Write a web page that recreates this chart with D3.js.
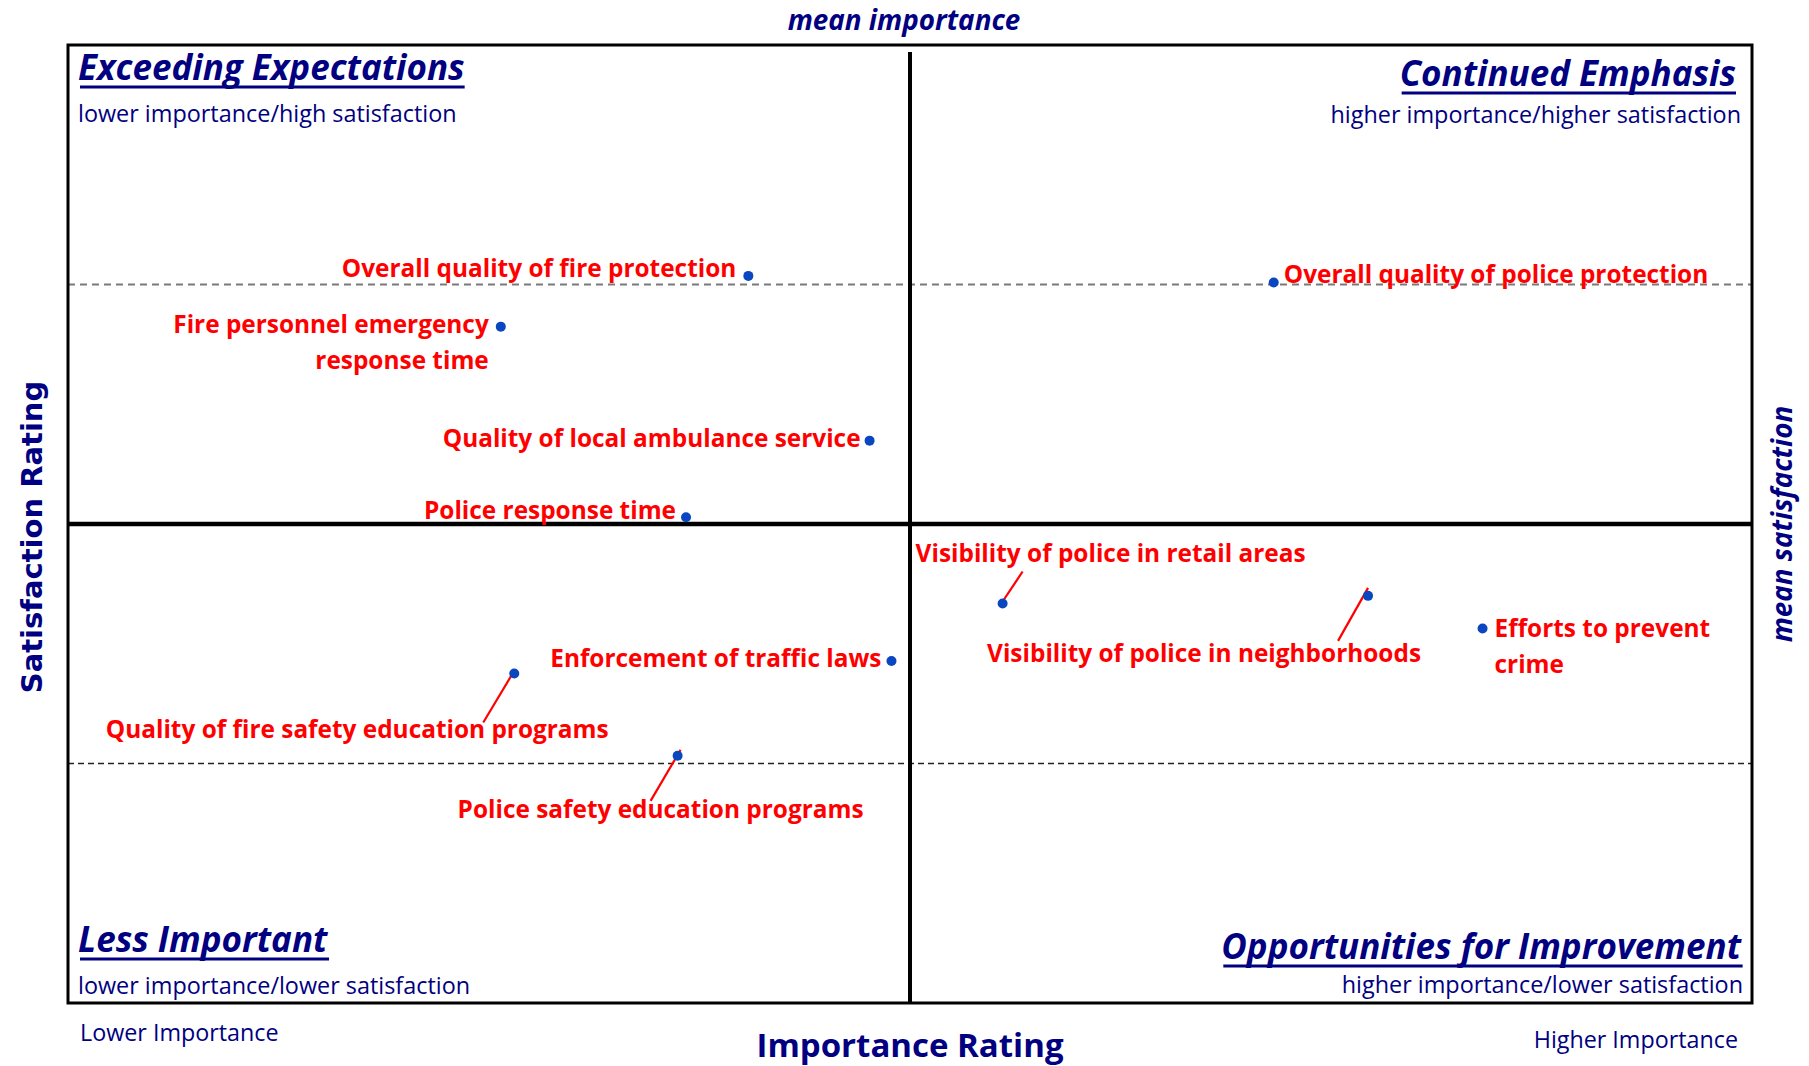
<!DOCTYPE html>
<html>
<head>
<meta charset="utf-8">
<script src="https://cdn.jsdelivr.net/npm/d3@7"></script>
<style>
  body { margin: 0; background: #fff; }
  svg { display: block; }
  text { font-family: 'Open Sans', Lato, sans-serif; }
</style>
</head>
<body>
<script>
var width = 1809
var height = 1066
var margin = { top: 45, right: 57, bottom: 63, left: 68 }

// items and where they sit (importance index, satisfaction index, 0-100)
var items = [
  'Overall quality of fire protection',
  'Fire personnel emergency|response time',
  'Quality of local ambulance service',
  'Police response time',
  'Overall quality of police protection',
  'Enforcement of traffic laws',
  'Quality of fire safety education programs',
  'Police safety education programs',
  'Visibility of police in retail areas',
  'Visibility of police in neighborhoods',
  'Efforts to prevent|crime'
]
var importance = [40.4, 25.7, 47.6, 36.7, 71.6, 48.9, 26.5, 36.2, 55.5, 77.2, 84.0]
var satisfaction = [75.9, 70.6, 58.7, 50.7, 75.2, 35.7, 34.4, 25.8, 41.7, 42.5, 39.1]

var meanImportance = 50
var meanSatisfaction = 50
var refLines = [75, 25]

var quadrants = [
  { title: 'Exceeding Expectations', sub: 'lower importance/high satisfaction' },
  { title: 'Continued Emphasis', sub: 'higher importance/higher satisfaction' },
  { title: 'Less Important', sub: 'lower importance/lower satisfaction' },
  { title: 'Opportunities for Improvement', sub: 'higher importance/lower satisfaction' }
]

// label placement relative to each dot: offset, anchor, optional leader line
var labelLayout = [
  { dx: -12, dy: 1, anchor: 'end' },
  { dx: -12, dy: 6, anchor: 'end' },
  { dx: -9, dy: 6, anchor: 'end' },
  { dx: -10, dy: 2, anchor: 'end' },
  { dx: 10, dy: 0, anchor: 'start' },
  { dx: -10, dy: 6, anchor: 'end' },
  { dx: -157, dy: 65, anchor: 'middle', leader: [[-1, -1], [-31, 49]] },
  { dx: -17, dy: 62, anchor: 'middle', leader: [[3, -6], [-27, 45]] },
  { dx: -87, dy: -42, anchor: 'start', leader: [[0, -2], [20, -32]] },
  { dx: -164, dy: 66, anchor: 'middle', leader: [[0, -8], [-30, 45]] },
  { dx: 12, dy: 9, anchor: 'start' }
]

var navy = '#000080'
var red = '#ff0000'
var dotColor = '#0a46c0'

var xScale = d3.scaleLinear()
               .domain([0, 100])
               .range([margin.left, width - margin.right])

var yScale = d3.scaleLinear()
               .domain([0, 100])
               .range([height - margin.bottom, margin.top])

var svg = d3.select('body').append('svg')
            .attr('width', width)
            .attr('height', height)

var x0 = xScale(0), x1 = xScale(100), y0 = yScale(0), y1 = yScale(100)

// dashed reference lines
svg.selectAll('.ref')
   .data(refLines)
   .enter().append('line')
   .attr('x1', x0).attr('x2', x1)
   .attr('y1', d => yScale(d)).attr('y2', d => yScale(d))
   .attr('stroke', (d, i) => i == 0 ? '#7a7a7a' : '#222')
   .attr('stroke-width', (d, i) => i == 0 ? 2 : 1.3)
   .attr('stroke-dasharray', (d, i) => i == 0 ? '7,5' : '6,4')

// mean lines
svg.append('line')
   .attr('x1', x0).attr('x2', x1)
   .attr('y1', yScale(meanSatisfaction)).attr('y2', yScale(meanSatisfaction))
   .attr('stroke', '#000').attr('stroke-width', 4.5)

svg.append('line')
   .attr('x1', xScale(meanImportance)).attr('x2', xScale(meanImportance))
   .attr('y1', y1 + 7).attr('y2', y0)
   .attr('stroke', '#000').attr('stroke-width', 4)

// frame
svg.append('rect')
   .attr('x', x0).attr('y', y1)
   .attr('width', x1 - x0).attr('height', y0 - y1)
   .attr('fill', 'none').attr('stroke', '#000').attr('stroke-width', 3)

// quadrant titles
var qPos = [
  { x: x0 + 10, ty: y1 + 35, sy: y1 + 77, anchor: 'start' },
  { x: x1 - 16, ty: y1 + 41, sy: y1 + 78, anchor: 'end', sx: x1 - 11 },
  { x: x0 + 10, ty: y0 - 51, sy: y0 - 9, anchor: 'start' },
  { x: x1 - 11, ty: y0 - 44, sy: y0 - 10, anchor: 'end', sx: x1 - 9 }
]

quadrants.forEach((q, i) => {
  var p = qPos[i]
  var t = svg.append('text')
     .attr('x', p.x).attr('y', p.ty)
     .attr('text-anchor', p.anchor)
     .attr('fill', navy)
     .style('font-size', '35px')
     .style('font-weight', 'bold')
     .style('font-style', 'italic')
     .text(q.title)
  var b = t.node().getBBox()
  svg.append('line')
     .attr('x1', b.x + 2).attr('x2', b.x + b.width)
     .attr('y1', p.ty + 7).attr('y2', p.ty + 7)
     .attr('stroke', navy).attr('stroke-width', 3)

  svg.append('text')
     .attr('x', p.sx || p.x).attr('y', p.sy)
     .attr('text-anchor', p.anchor)
     .attr('fill', navy)
     .style('font-size', '23.4px')
     .text(q.sub)
})

// leader lines
svg.selectAll('.leader')
   .data(items.map((d, i) => i).filter(i => labelLayout[i].leader))
   .enter().append('line')
   .attr('x1', i => xScale(importance[i]) + labelLayout[i].leader[0][0])
   .attr('y1', i => yScale(satisfaction[i]) + labelLayout[i].leader[0][1])
   .attr('x2', i => xScale(importance[i]) + labelLayout[i].leader[1][0])
   .attr('y2', i => yScale(satisfaction[i]) + labelLayout[i].leader[1][1])
   .attr('stroke', red).attr('stroke-width', 2.2)

// dots
svg.selectAll('.dot')
   .data(items)
   .enter().append('circle')
   .attr('cx', (d, i) => xScale(importance[i]))
   .attr('cy', (d, i) => yScale(satisfaction[i]))
   .attr('r', 5)
   .attr('fill', dotColor)

// item labels
var labels = svg.selectAll('.label')
   .data(items)
   .enter().append('text')
   .attr('text-anchor', (d, i) => labelLayout[i].anchor)
   .attr('fill', red)
   .style('font-size', '24.4px')
   .style('font-weight', 'bold')

labels.each(function(d, i) {
  var lx = xScale(importance[i]) + labelLayout[i].dx
  var ly = yScale(satisfaction[i]) + labelLayout[i].dy
  d3.select(this).selectAll('tspan')
    .data(d.split('|'))
    .enter().append('tspan')
    .attr('x', lx)
    .attr('y', (s, k) => ly + k * 36)
    .text(s => s)
})

// axis captions
svg.append('text')
   .attr('x', xScale(meanImportance) - 6).attr('y', 30)
   .attr('text-anchor', 'middle')
   .attr('fill', navy)
   .style('font-size', '27.8px').style('font-weight', 'bold').style('font-style', 'italic')
   .text('mean importance')

svg.append('text')
   .attr('transform', 'translate(' + [1792, yScale(meanSatisfaction)] + ') rotate(-90)')
   .attr('text-anchor', 'middle')
   .attr('fill', navy)
   .style('font-size', '27.8px').style('font-weight', 'bold').style('font-style', 'italic')
   .text('mean satisfaction')

svg.append('text')
   .attr('transform', 'translate(' + [42, 537] + ') rotate(-90)')
   .attr('text-anchor', 'middle')
   .attr('fill', navy)
   .style('font-family', "'DejaVu Sans', sans-serif")
   .style('font-size', '29px').style('font-weight', 'bold')
   .text('Satisfaction Rating')

svg.append('text')
   .attr('x', 910).attr('y', 1057)
   .attr('text-anchor', 'middle')
   .attr('fill', navy)
   .style('font-size', '33px').style('font-weight', 'bold')
   .text('Importance Rating')

svg.append('text')
   .attr('x', 80).attr('y', 1041)
   .attr('fill', navy)
   .style('font-size', '23.3px')
   .text('Lower Importance')

svg.append('text')
   .attr('x', 1738).attr('y', 1048)
   .attr('text-anchor', 'end')
   .attr('fill', navy)
   .style('font-size', '23.3px')
   .text('Higher Importance')
</script>
</body>
</html>
